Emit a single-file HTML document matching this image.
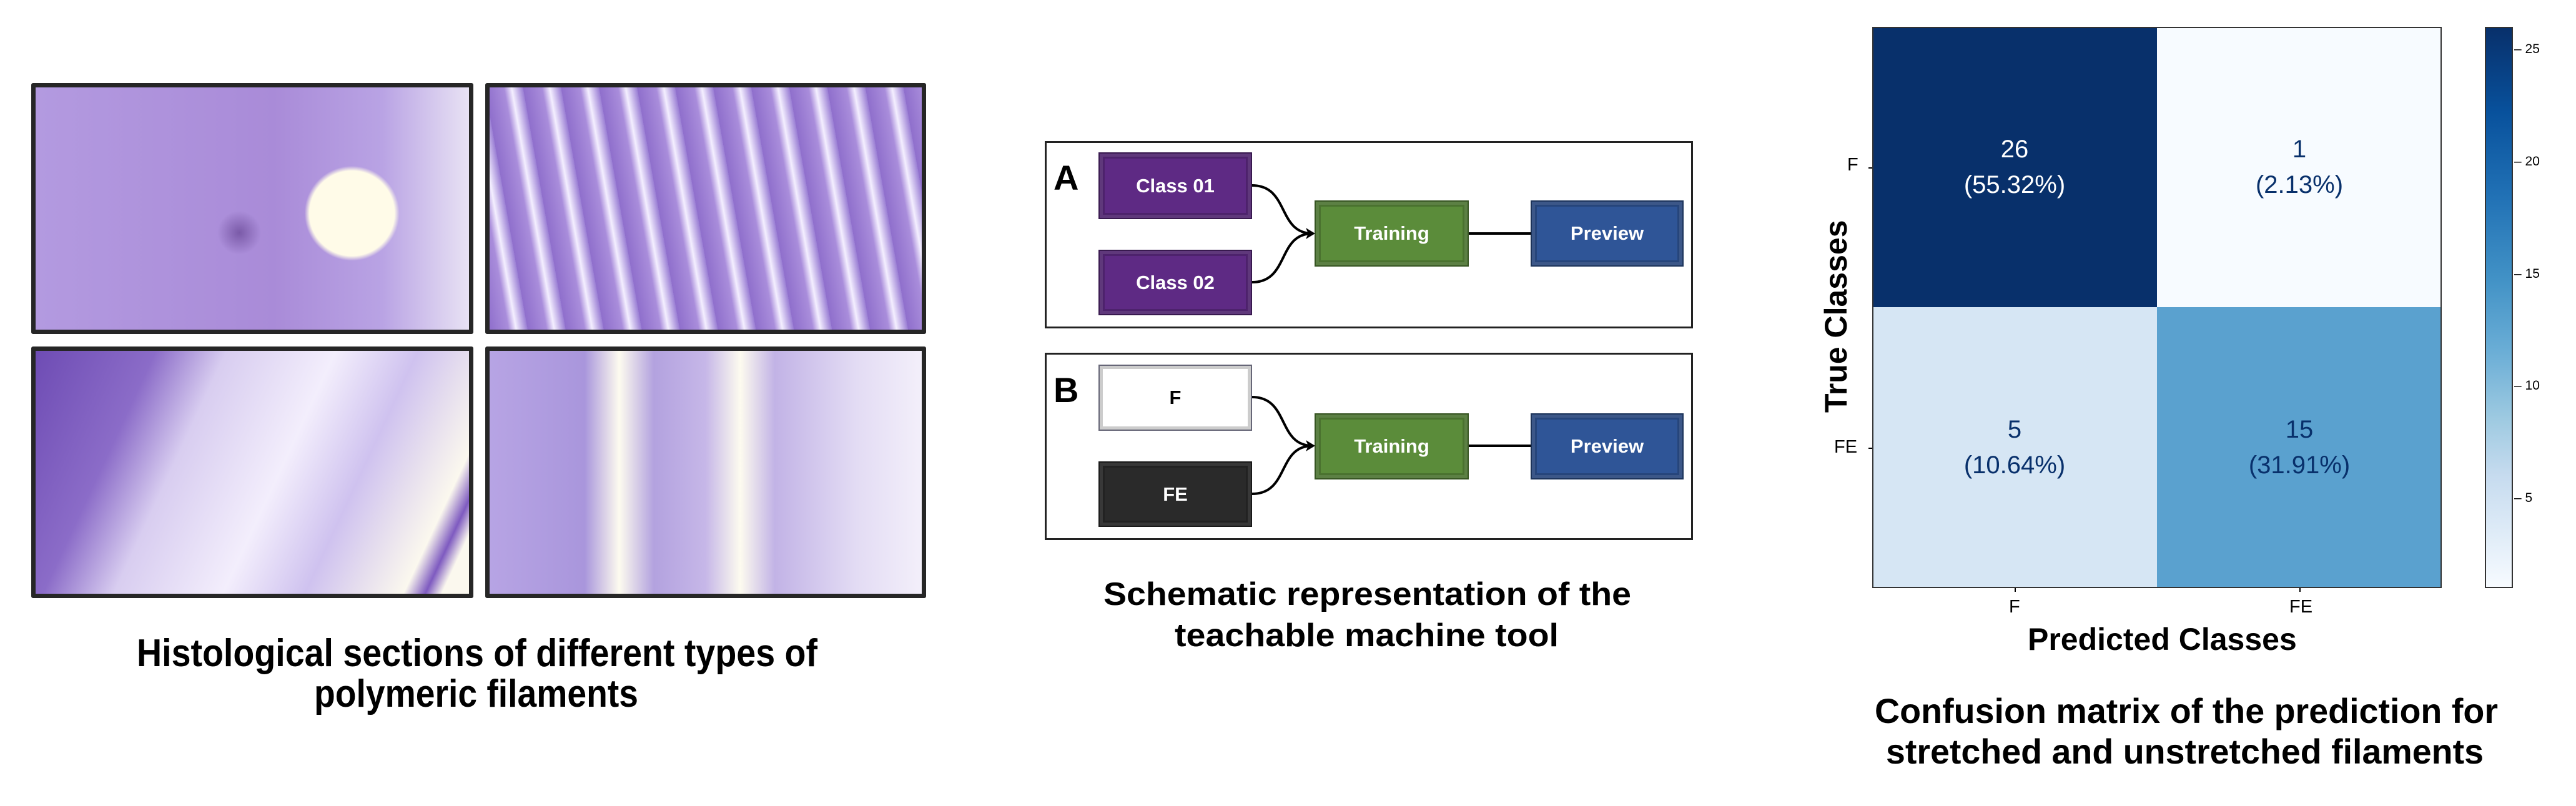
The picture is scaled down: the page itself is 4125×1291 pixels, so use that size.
<!DOCTYPE html>
<html><head><meta charset="utf-8"><style>
*{margin:0;padding:0;box-sizing:border-box}
body{width:4125px;height:1291px;background:#fff;position:relative;overflow:hidden;font-family:"Liberation Sans",sans-serif}
.a{position:absolute}
.img{position:absolute;border:7px solid #262626;border-radius:3px;overflow:hidden}
.bx{position:absolute;color:#fff;font-weight:bold;font-size:31px;display:flex;align-items:center;justify-content:center;border:2px solid rgba(0,0,0,0.4);box-shadow:inset 0 0 0 5px rgba(255,255,255,0.1),inset 0 0 0 8px rgba(0,0,0,0.18)}
.cell{position:absolute;display:flex;flex-direction:column;align-items:center;justify-content:center;font-size:40px;line-height:57px;text-align:center}
.tk{position:absolute;font-size:29px;color:#000}
.cb{position:absolute;font-size:21px;color:#000}
</style></head><body>

<!-- histology -->
<div class="img" style="left:50px;top:133px;width:708px;height:402px;background:radial-gradient(circle at 73% 52%,#fffbe8 0,#fffbe8 68px,transparent 76px),radial-gradient(circle at 47% 60%,#7a5aa8 0,transparent 35px),linear-gradient(90deg,#b39ae0,#a98bd8 55%,#b9a3e4 80%,#e8e2f4)"></div>
<div class="img" style="left:777px;top:133px;width:706px;height:402px;background:repeating-linear-gradient(80deg,#8f6fcc 0,#a98ddb 30px,#f4efff 42px,#9a7ed4 60px),linear-gradient(#c7b3e8,#9a7fd4)"></div>
<div class="img" style="left:50px;top:555px;width:708px;height:403px;background:linear-gradient(115deg,#6e4cb4 0,#8b6cc8 22%,#d8cdf0 35%,#f3eefc 55%,#cfc2ef 70%,#fbf8ee 88%,#7e5ac0 92%,#fbf8ee 95%)"></div>
<div class="img" style="left:777px;top:555px;width:706px;height:403px;background:linear-gradient(90deg,#b7a4e4 0,#a996dc 22%,#fdfbef 30%,#b3a2df 38%,#c6b7e8 50%,#fdfbef 58%,#c2b3e6 66%,#e3dcf4 85%,#f3effa)"></div>

<svg class="a" style="left:0;top:0" width="4125" height="1291" font-family="Liberation Sans" font-weight="bold">
<text x="219" y="1067" font-size="62" textLength="1090" lengthAdjust="spacingAndGlyphs">Histological sections of different types of</text>
<text x="503" y="1132" font-size="62" textLength="519" lengthAdjust="spacingAndGlyphs">polymeric filaments</text>
<text x="1767" y="969" font-size="52" textLength="845" lengthAdjust="spacingAndGlyphs">Schematic representation of the</text>
<text x="1881" y="1035" font-size="52" textLength="615" lengthAdjust="spacingAndGlyphs">teachable machine tool</text>
<text x="3002" y="1158" font-size="56" textLength="998" lengthAdjust="spacingAndGlyphs">Confusion matrix of the prediction for</text>
<text x="3020" y="1223" font-size="56" textLength="957" lengthAdjust="spacingAndGlyphs">stretched and unstretched filaments</text>
</svg>

<!-- schematic -->
<div class="a" style="left:1673px;top:226px;width:1038px;height:300px;border:3px solid #222"></div>
<div class="a" style="left:1673px;top:565px;width:1038px;height:300px;border:3px solid #222"></div>
<div class="a" style="left:1687px;top:252px;font-size:56px;font-weight:bold">A</div>
<div class="a" style="left:1687px;top:592px;font-size:56px;font-weight:bold">B</div>
<div class="bx" style="left:1759px;top:244px;width:246px;height:107px;background:#5e2a84">Class 01</div>
<div class="bx" style="left:1759px;top:400px;width:246px;height:105px;background:#5e2a84">Class 02</div>
<div class="bx" style="left:2105px;top:321px;width:247px;height:106px;background:#5b8c3a">Training</div>
<div class="bx" style="left:2451px;top:321px;width:245px;height:106px;background:#2f5597">Preview</div>
<div class="bx" style="left:1759px;top:584px;width:246px;height:106px;background:#fff;color:#000;border:2px solid #667;box-shadow:inset 0 0 0 5px #ccc">F</div>
<div class="bx" style="left:1759px;top:739px;width:246px;height:105px;background:#2a2a2a">FE</div>
<div class="bx" style="left:2105px;top:662px;width:247px;height:106px;background:#5b8c3a">Training</div>
<div class="bx" style="left:2451px;top:662px;width:245px;height:106px;background:#2f5597">Preview</div>
<svg class="a" style="left:0;top:0" width="4125" height="1291">
<g fill="none" stroke="#000" stroke-width="4">
<path d="M2005 297 C2065 297 2045 374 2102 374"/><path d="M2005 452 C2065 452 2045 374 2102 374"/>
<path d="M2352 374 H2451"/>
<path d="M2005 636 C2065 636 2045 714 2102 714"/><path d="M2005 791 C2065 791 2045 714 2102 714"/>
<path d="M2352 714 H2451"/>
</g>
<path d="M2106 374 l-15 -9 l4 9 l-4 9z"/><path d="M2106 714 l-15 -9 l4 9 l-4 9z"/>
</svg>

<!-- confusion matrix -->
<div class="a" style="left:2998px;top:43px;width:456px;height:449px;background:#08306b"></div>
<div class="a" style="left:3454px;top:43px;width:456px;height:449px;background:#f7fbff"></div>
<div class="a" style="left:2998px;top:492px;width:456px;height:450px;background:#d6e6f4"></div>
<div class="a" style="left:3454px;top:492px;width:456px;height:450px;background:#5aa1cf"></div>
<div class="a" style="left:2998px;top:43px;width:912px;height:899px;border:2px solid #333"></div>
<div class="cell" style="left:2998px;top:43px;width:456px;height:449px;color:#fff">26<br>(55.32%)</div>
<div class="cell" style="left:3454px;top:43px;width:456px;height:449px;color:#08306b">1<br>(2.13%)</div>
<div class="cell" style="left:2998px;top:492px;width:456px;height:450px;color:#08306b">5<br>(10.64%)</div>
<div class="cell" style="left:3454px;top:492px;width:456px;height:450px;color:#08306b">15<br>(31.91%)</div>
<div class="tk" style="left:2958px;top:248px">F</div>
<div class="tk" style="left:2937px;top:700px">FE</div>
<div class="tk" style="left:3217px;top:956px">F</div>
<div class="tk" style="left:3666px;top:956px">FE</div>
<div class="a" style="left:2992px;top:268px;width:6px;height:2px;background:#000"></div>
<div class="a" style="left:2992px;top:717px;width:6px;height:2px;background:#000"></div>
<div class="a" style="left:3226px;top:942px;width:2px;height:6px;background:#000"></div>
<div class="a" style="left:3682px;top:942px;width:2px;height:6px;background:#000"></div>
<div class="a" style="left:3247px;top:995px;font-size:50px;font-weight:bold">Predicted Classes</div>
<div class="a" style="left:2790px;top:482px;width:300px;text-align:center;font-size:50px;font-weight:bold;transform:rotate(-90deg);white-space:nowrap">True Classes</div>
<div class="a" style="left:3979px;top:43px;width:45px;height:899px;border:2px solid #333;background:linear-gradient(#08306b,#08519c 15%,#2171b5 30%,#4292c6 45%,#6baed6 58%,#9ecae1 70%,#c6dbef 80%,#deebf7 90%,#f7fbff)"></div>
<div class="cb" style="left:4026px;top:67px">– 25</div>
<div class="cb" style="left:4026px;top:247px">– 20</div>
<div class="cb" style="left:4026px;top:427px">– 15</div>
<div class="cb" style="left:4026px;top:606px">– 10</div>
<div class="cb" style="left:4026px;top:786px">– 5</div>
</body></html>
